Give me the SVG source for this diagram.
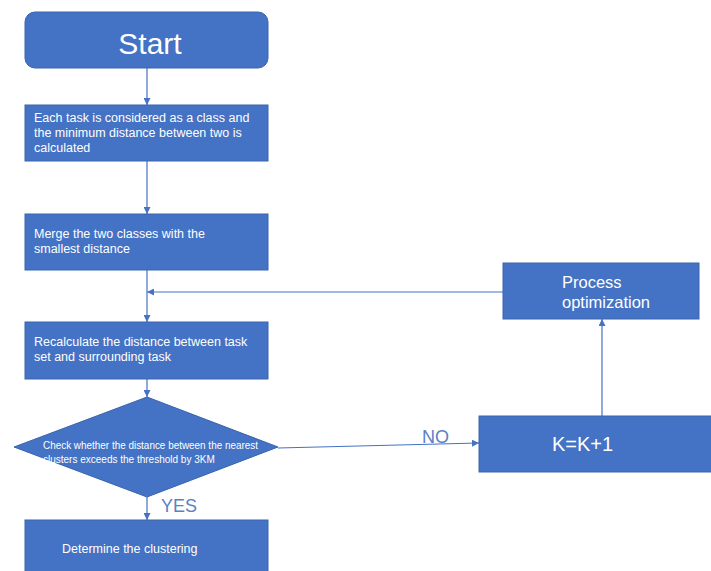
<svg xmlns="http://www.w3.org/2000/svg" width="711" height="571" viewBox="0 0 711 571">
<defs>
<style>
.box{fill:#4472C4;stroke:#3A64AE;stroke-width:1}
.t{fill:#fff;font-family:"Liberation Sans","DejaVu Sans",sans-serif;font-size:12.5px}
.lbl{fill:#5A80C8;font-family:"Liberation Sans","DejaVu Sans",sans-serif;font-size:18px}
.ln{stroke:#4472C4;stroke-width:1.2;fill:none;marker-end:url(#ah)}
</style>
<marker id="ah" viewBox="0 0 10 10" refX="10" refY="5" markerWidth="7" markerHeight="7" markerUnits="userSpaceOnUse" orient="auto">
<path d="M0,0 L10,5 L0,10 z" fill="#4472C4"/>
</marker>
</defs>
<rect width="711" height="571" fill="#fff"/>
<g id="connectors">
<line class="ln" x1="147" y1="68" x2="147" y2="105"/>
<line class="ln" x1="147" y1="161" x2="147" y2="214"/>
<line class="ln" x1="147" y1="270" x2="147" y2="322"/>
<line class="ln" x1="503" y1="292" x2="147" y2="292"/>
<line class="ln" x1="147" y1="379" x2="147" y2="397"/>
<line class="ln" x1="147" y1="497" x2="147" y2="520"/>
<line class="ln" x1="278" y1="448" x2="479" y2="443"/>
<line class="ln" x1="602" y1="416" x2="602" y2="319"/>
<text class="lbl" x="422" y="443">NO</text>
<text class="lbl" x="161" y="512">YES</text>
</g>
<g id="start">
<rect class="box" x="25" y="12" width="243" height="56" rx="10"/>
<text class="t" x="150" y="54" text-anchor="middle" style="font-size:30px">Start</text>
</g>
<g id="step1">
<rect class="box" x="25" y="105" width="243" height="56"/>
<text class="t" x="34" y="122">Each task is considered as a class and</text>
<text class="t" x="34" y="137">the minimum distance between two is</text>
<text class="t" x="34" y="152">calculated</text>
</g>
<g id="step2">
<rect class="box" x="25" y="214" width="243" height="56"/>
<text class="t" x="34" y="238">Merge the two classes with the</text>
<text class="t" x="34" y="253">smallest distance</text>
</g>
<g id="step3">
<rect class="box" x="25" y="322" width="243" height="57"/>
<text class="t" x="34" y="346">Recalculate the distance between task</text>
<text class="t" x="34" y="361">set and surrounding task</text>
</g>
<g id="decision">
<polygon class="box" points="147,397 278,447 147,497 14,447"/>
<text class="t" x="43" y="449" style="font-size:10px" textLength="215" lengthAdjust="spacingAndGlyphs">Check whether the distance between the nearest</text>
<text class="t" x="43" y="463" style="font-size:10px">clusters exceeds the threshold by 3KM</text>
</g>
<g id="determine">
<rect class="box" x="25" y="520" width="243" height="56"/>
<text class="t" x="62" y="553">Determine the clustering</text>
</g>
<g id="k">
<rect class="box" x="479" y="416" width="240" height="56"/>
<text class="t" x="552" y="451" style="font-size:20px">K=K+1</text>
</g>
<g id="process">
<rect class="box" x="503" y="263" width="196" height="56"/>
<text class="t" x="562" y="288" style="font-size:16.5px">Process</text>
<text class="t" x="562" y="308" style="font-size:16.5px">optimization</text>
</g>
</svg>
